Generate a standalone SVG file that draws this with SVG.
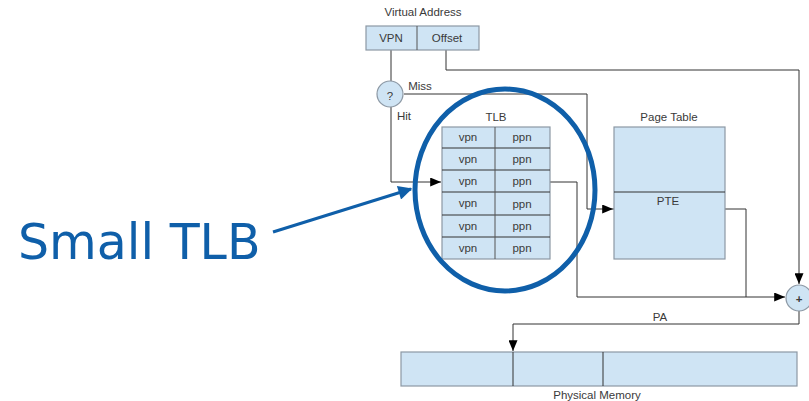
<svg xmlns="http://www.w3.org/2000/svg" width="809" height="401" viewBox="0 0 809 401">
  <style>
    .box { fill: #cfe4f4; stroke: #8c98a4; stroke-width: 1.2; }
    .div { stroke: #333; stroke-width: 1; fill: none; }
    .lbl { font-family: "Liberation Sans", Arial, sans-serif; font-size: 11.5px; fill: #3a3a3a; text-anchor: middle; }
    .wire { stroke: #333; stroke-width: 1; fill: none; }
    .note { fill: none; stroke: #0f5fa9; stroke-width: 5; }
  </style>
  <defs>
    <marker id="arr" viewBox="0 0 12 10" refX="12" refY="5" markerWidth="12" markerHeight="9" markerUnits="userSpaceOnUse" orient="auto">
      <path d="M0,0 L12,5 L0,10 z" fill="#000"/>
    </marker>
    <marker id="arrBlue" viewBox="0 0 10 10" refX="9" refY="5" markerWidth="18" markerHeight="14" markerUnits="userSpaceOnUse" orient="auto">
      <path d="M0,0 L10,5 L0,10 z" fill="#0f5fa9"/>
    </marker>
  </defs>

  <!-- connectors -->
  <g id="connectors">
    <path class="wire" d="M446,50 V70 H799 V284" marker-end="url(#arr)"/>
    <path class="wire" d="M391,50 V81"/>
    <path class="wire" d="M404,94 H587 V209 H613" marker-end="url(#arr)"/>
    <path class="wire" d="M613,209 H746 V297"/>
    <path class="wire" d="M391,107 V182 H441" marker-end="url(#arr)"/>
    <path class="wire" d="M550,182 H577 V297 H785" marker-end="url(#arr)"/>
    <path class="wire" d="M799,311 V324 H513 V351" marker-end="url(#arr)"/>
    <text class="lbl" x="420" y="90">Miss</text>
    <text class="lbl" x="404" y="120">Hit</text>
    <text class="lbl" x="660" y="321">PA</text>
  </g>

  <!-- virtual address -->
  <g id="virtual-address">
    <text class="lbl" x="423" y="16">Virtual Address</text>
    <rect class="box" x="366" y="26" width="113" height="24"/>
    <line x1="417" y1="26" x2="417" y2="50" stroke="#555" stroke-width="1"/>
    <text class="lbl" x="391" y="42">VPN</text>
    <text class="lbl" x="447" y="42">Offset</text>
  </g>

  <!-- hit/miss check -->
  <g id="check">
    <circle class="box" cx="390" cy="94" r="13"/>
    <text class="lbl" x="390" y="100" font-size="16" fill="#222">?</text>
  </g>

  <!-- TLB -->
  <g id="tlb">
    <text class="lbl" x="496" y="121">TLB</text>
    <rect class="box" x="442" y="127" width="108" height="132"/>
    <path class="div" d="M442,148 H550 M442,170 H550 M442,192 H550 M442,215 H550 M442,237 H550"/>
    <line x1="495" y1="127" x2="495" y2="259" stroke="#555" stroke-width="1"/>
    <g class="lbl">
      <text x="468" y="141">vpn</text><text x="522" y="141">ppn</text>
      <text x="468" y="163">vpn</text><text x="522" y="163">ppn</text>
      <text x="468" y="185">vpn</text><text x="522" y="185">ppn</text>
      <text x="468" y="207">vpn</text><text x="522" y="208">ppn</text>
      <text x="468" y="230">vpn</text><text x="522" y="230">ppn</text>
      <text x="468" y="252">vpn</text><text x="522" y="252">ppn</text>
    </g>
  </g>

  <!-- page table -->
  <g id="page-table">
    <text class="lbl" x="669" y="121">Page Table</text>
    <rect class="box" x="614" y="127" width="111" height="132"/>
    <line class="div" x1="614" y1="192" x2="725" y2="192"/>
    <text class="lbl" x="668" y="205">PTE</text>
  </g>

  <!-- adder -->
  <g id="adder">
    <circle class="box" cx="799" cy="298" r="13"/>
    <text class="lbl" x="799" y="303" font-size="15" font-weight="bold" fill="#222">+</text>
  </g>

  <!-- physical memory -->
  <g id="physical-memory">
    <rect class="box" x="401" y="352" width="396" height="34"/>
    <path class="div" d="M513,352 V386 M603,352 V386"/>
    <text class="lbl" x="597" y="399">Physical Memory</text>
  </g>

  <!-- callout -->
  <g id="callout">
    <ellipse class="note" cx="505" cy="190" rx="90" ry="101"/>
    <line x1="273" y1="232" x2="411" y2="189" stroke="#0f5fa9" stroke-width="3" marker-end="url(#arrBlue)"/>
    <text x="18" y="259" font-family="DejaVu Sans, Verdana, sans-serif" font-size="49" fill="#0f5fa9">Small TLB</text>
  </g>
</svg>
